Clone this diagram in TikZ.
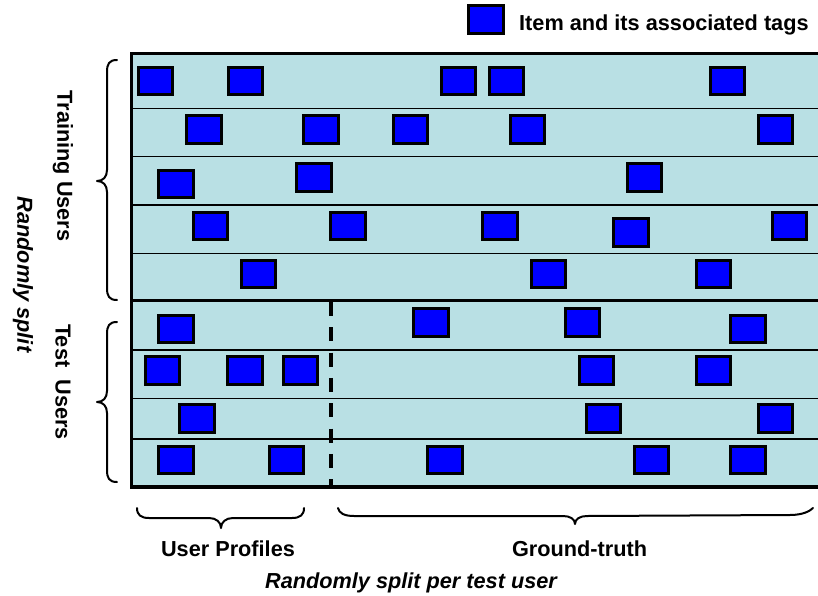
\documentclass[tikz,border=0pt]{standalone}
\usepackage{fontspec}
\setmainfont{Liberation Sans}
\definecolor{band}{RGB}{185,224,228}
\definecolor{itemblue}{RGB}{0,0,255}
\begin{document}
\begin{tikzpicture}[x=1pt,y=-1pt,
  item/.style={draw=black, line width=3pt, fill=itemblue, minimum width=34.5pt, minimum height=27.5pt, inner sep=0pt},
  lbl/.style={font=\fontsize{21.7}{26}\selectfont\bfseries, inner sep=0pt},
  ilbl/.style={font=\fontsize{21.7}{26}\selectfont\bfseries\itshape, inner sep=0pt},
  rowline/.style={line width=1.5pt},
  bracestyle/.style={line width=2pt, line cap=round, line join=round}]
\useasboundingbox (0,0) rectangle (818,596);
% band
\fill[band] (131.5,53.5) rectangle (822,486.5);
% row separators
\foreach \yy in {108.3,156.7,205,253.3,350,398.3,439}
  \draw[rowline] (131.5,\yy) -- (822,\yy);
\draw[line width=3pt] (131.5,300.5) -- (822,300.5);
% split line
\coordinate (dtop) at (331,302);
\coordinate (dbot) at (331,486);
\draw[line width=3.5pt, dash pattern=on 14pt off 11.3pt] (dtop) -- (dbot);
% outer border
\draw[line width=3.5pt] (822,53.3) -- (131.5,53.3) -- (131.5,486.8) -- (822,486.8);
% items: row 1
\node[item] (a1) at (155.5,81) {};
\node[item] (a2) at (245.5,81) {};
\node[item] (a3) at (458.5,81) {};
\node[item] (a4) at (506.5,81) {};
\node[item] (a5) at (727.5,81) {};
% row 2
\node[item] (b1) at (204,129.5) {};
\node[item] (b2) at (321,129.5) {};
\node[item] (b3) at (410.5,129.5) {};
\node[item] (b4) at (527.5,129.5) {};
\node[item] (b5) at (775.5,129.5) {};
% row 3
\node[item] (c1) at (176,184) {};
\node[item] (c2) at (314,177.5) {};
\node[item] (c3) at (644.5,177.5) {};
% row 4
\node[item] (d1) at (210.5,226) {};
\node[item] (d2) at (348,226) {};
\node[item] (d3) at (500,226) {};
\node[item] (d4) at (631,232.5) {};
\node[item] (d5) at (789.5,226) {};
% row 5
\node[item] (e1) at (258.5,274) {};
\node[item] (e2) at (548.5,274) {};
\node[item] (e3) at (713.5,274) {};
% row 6
\node[item] (f1) at (176,329) {};
\node[item] (f2) at (431,322.5) {};
\node[item] (f3) at (582.5,322.5) {};
\node[item] (f4) at (748,329) {};
% row 7
\node[item] (g1) at (162.5,370.5) {};
\node[item] (g2) at (245,370.5) {};
\node[item] (g3) at (300.5,370.5) {};
\node[item] (g4) at (596.5,370.5) {};
\node[item] (g5) at (713.5,370.5) {};
% row 8
\node[item] (h1) at (197,418.5) {};
\node[item] (h2) at (603.5,418.5) {};
\node[item] (h3) at (775.5,418.5) {};
% row 9
\node[item] (i1) at (176,460) {};
\node[item] (i2) at (286.5,460) {};
\node[item] (i3) at (445,460) {};
\node[item] (i4) at (651.5,460) {};
\node[item] (i5) at (748,460) {};
% legend
\node[item] (leg) at (486,19.5) {};
\node[lbl, anchor=base west] (legtext) at (519,31) {Item and its associated tags};
% left braces
\draw[bracestyle] (117,60) .. controls (109,60) and (107,64) .. (107,72) -- (107,170)
  .. controls (107,177) and (103,181) .. (97,181)
  .. controls (103,181) and (107,185) .. (107,192) -- (107,288)
  .. controls (107,296) and (109,300) .. (117,300);
\draw[bracestyle] (117,322) .. controls (109,322) and (107,326) .. (107,334) -- (107,391)
  .. controls (107,398) and (103,402) .. (97,402)
  .. controls (103,402) and (107,406) .. (107,413) -- (107,470)
  .. controls (107,478) and (109,482) .. (117,482);
% bottom braces
\draw[bracestyle] (137,508) .. controls (137,515) and (141,518) .. (149,518) -- (209,518)
  .. controls (216,518) and (221,522) .. (221,528)
  .. controls (221,522) and (226,518) .. (233,518) -- (292,518)
  .. controls (300,518) and (304,515) .. (304,508);
\draw[bracestyle] (338,508) .. controls (339,513) and (344,516) .. (354,516) -- (563,516)
  .. controls (570,516) and (575,519) .. (575,524)
  .. controls (575,519) and (580,516) .. (587,516) -- (790,515)
  .. controls (803,515) and (810,511) .. (813,508);
% labels
\node[lbl, rotate=-90] (train) at (63,166) {Training Users};
\node[lbl, rotate=-90] (test) at (63,382) {Test\ \ Users};
\node[ilbl, rotate=-90] (rsplit) at (23,274.5) {Randomly split};
\node[lbl, anchor=base] (prof) at (228,556) {User Profiles};
\node[lbl, anchor=base] (gt) at (579.5,556) {Ground-truth};
\node[ilbl, anchor=base] (rsplit2) at (411,588) {Randomly split per test user};
\end{tikzpicture}
\end{document}
